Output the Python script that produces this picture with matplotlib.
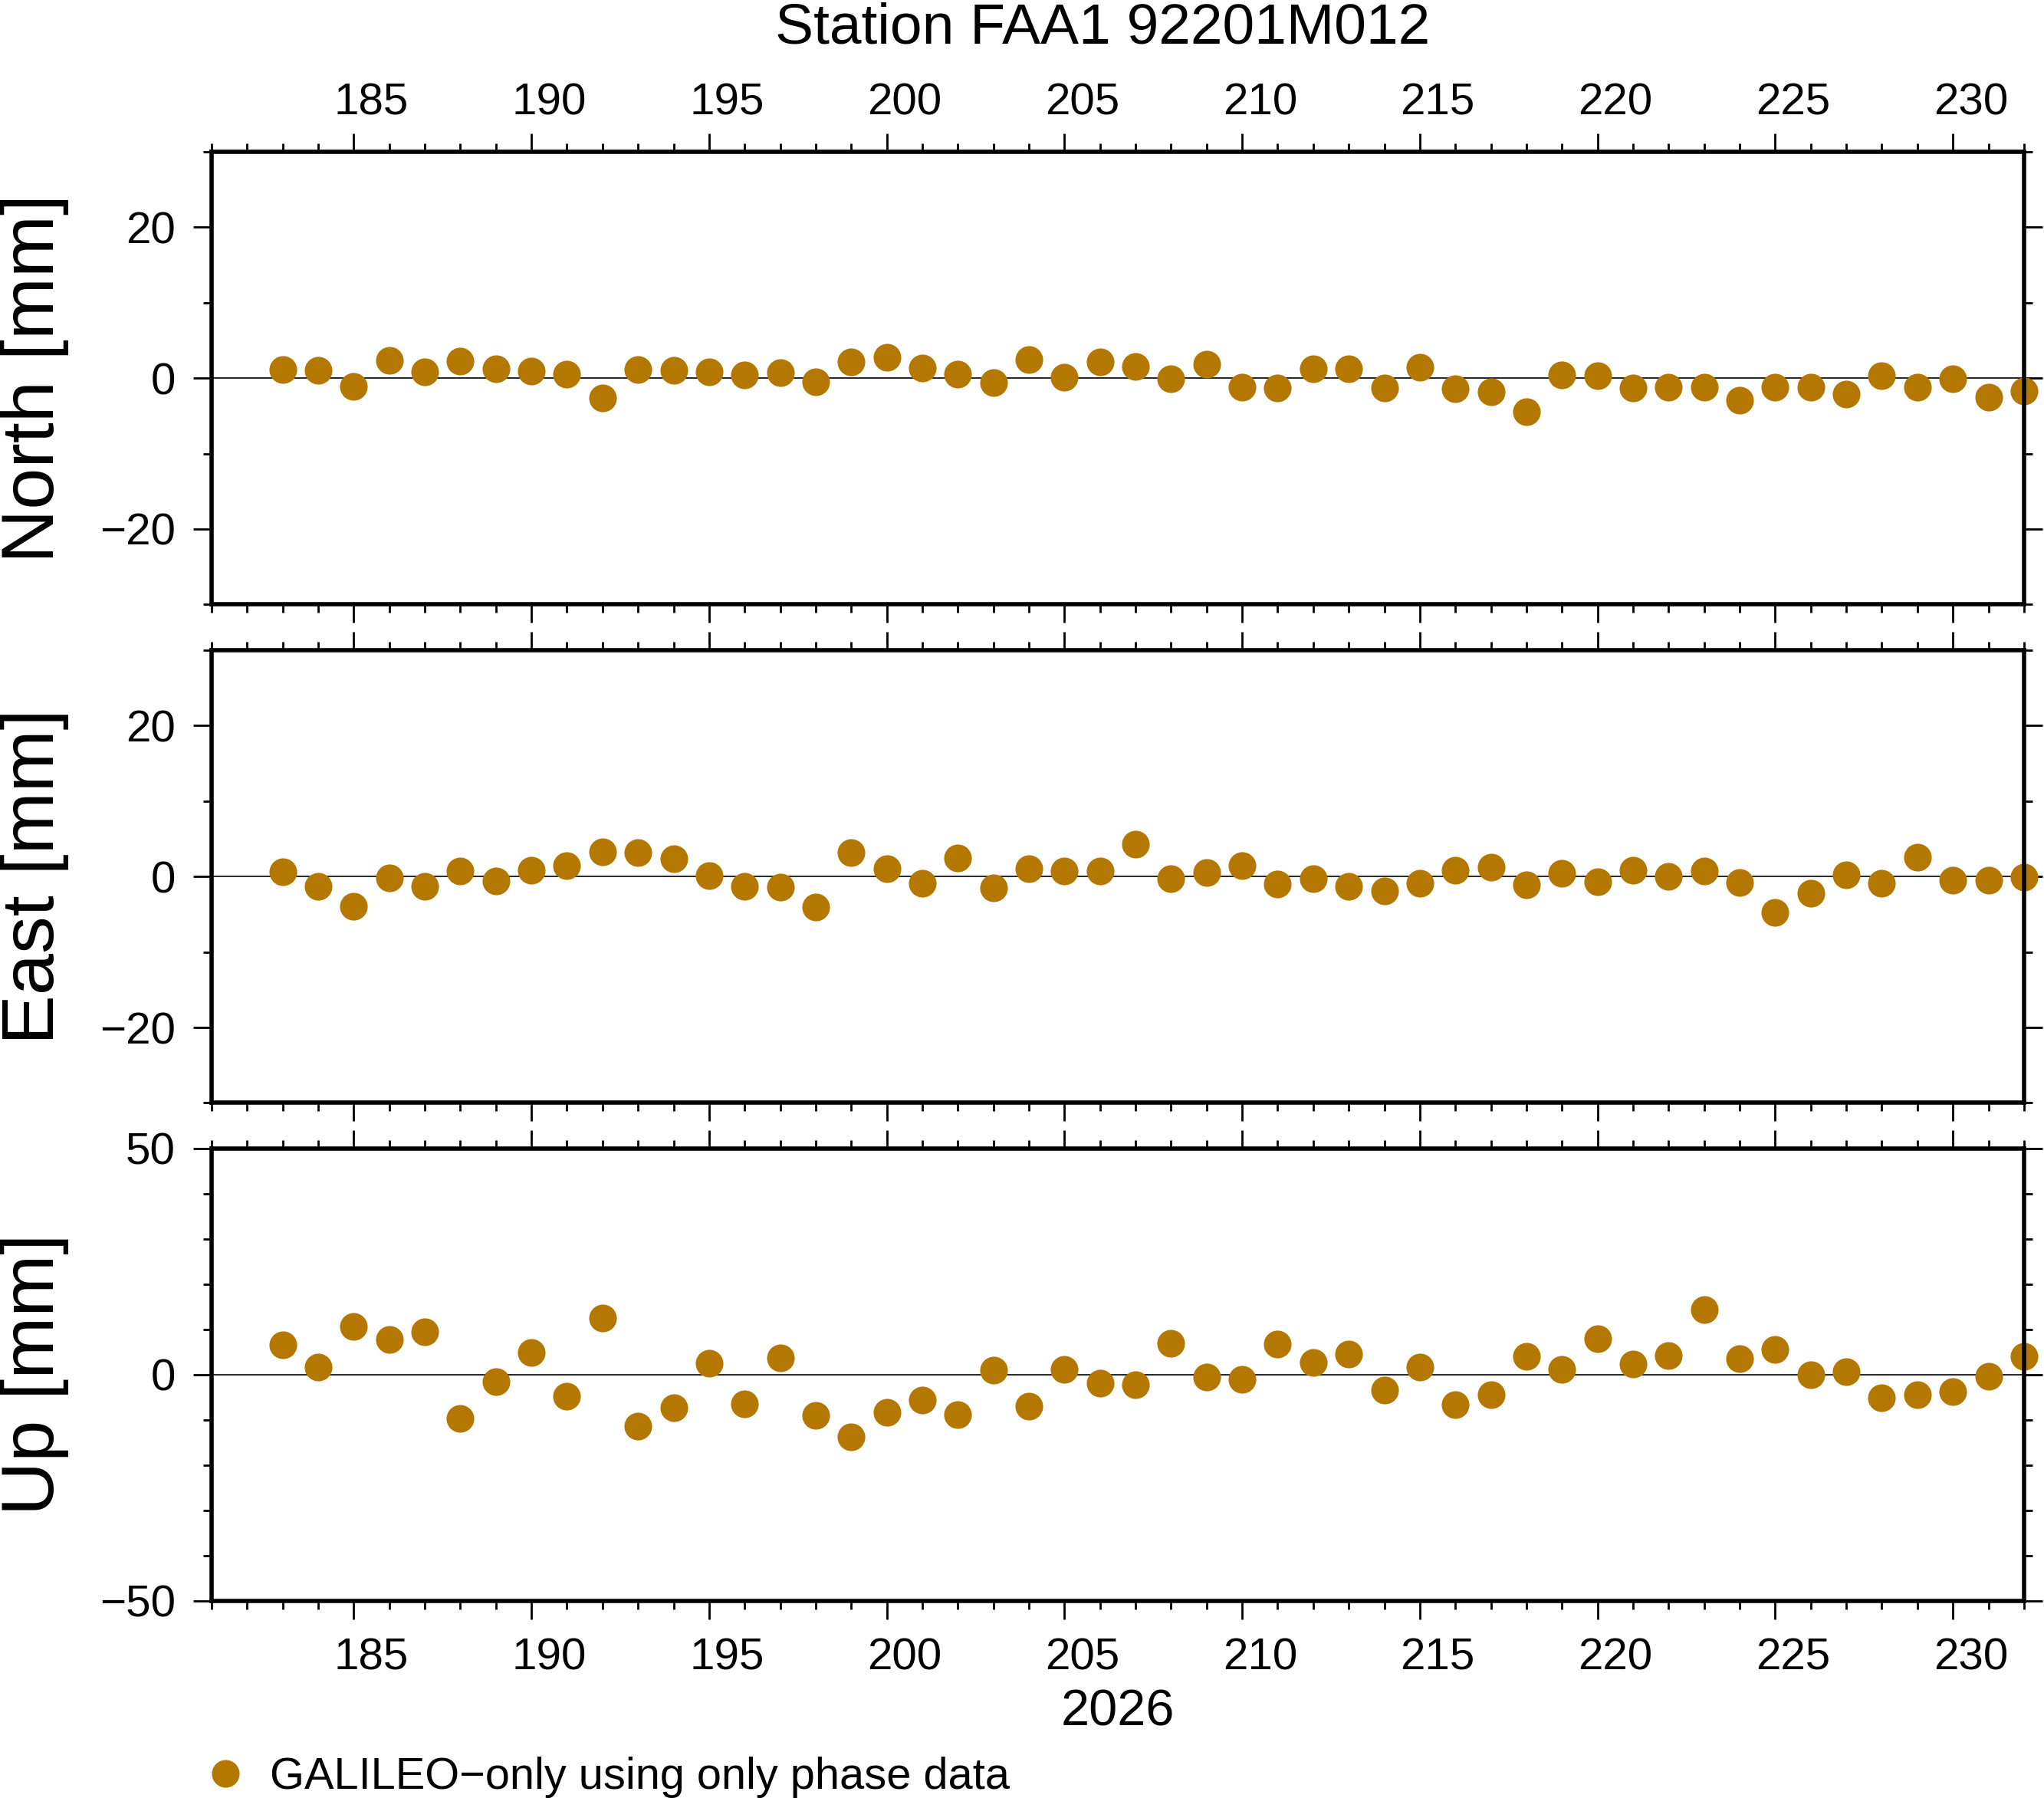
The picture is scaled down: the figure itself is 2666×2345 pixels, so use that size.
"""Station FAA1 daily position residuals: North / East / Up panels."""

import matplotlib
matplotlib.use("Agg")
import matplotlib.pyplot as plt
from matplotlib.ticker import MultipleLocator

plt.rcParams["font.family"] = ["Liberation Sans", "DejaVu Sans"]

TITLE = "Station FAA1 92201M012"
YEAR = "2026"
SERIES_LABEL = "GALILEO\u2212only using only phase data"

DAYS = list(range(183, 233))
LABEL_DAYS = list(range(185, 231, 5))

NORTH = [1.1, 1.0, -1.1, 2.4, 0.8, 2.3, 1.2, 0.9, 0.5, -2.6,
         1.1, 1.0, 0.8, 0.4, 0.7, -0.5, 2.1, 2.8, 1.3, 0.5,
         -0.6, 2.5, 0.1, 2.1, 1.5, -0.1, 1.8, -1.2, -1.3, 1.2,
         1.2, -1.3, 1.4, -1.4, -1.8, -4.5, 0.4, 0.3, -1.3, -1.2,
         -1.2, -2.9, -1.2, -1.2, -2.1, 0.3, -1.2, -0.1, -2.5, -1.7]
EAST = [0.6, -1.3, -3.9, -0.2, -1.3, 0.7, -0.6, 0.8, 1.4, 3.3,
        3.2, 2.4, 0.1, -1.3, -1.4, -4.0, 3.2, 1.0, -0.9, 2.5,
        -1.5, 1.0, 0.7, 0.7, 4.3, -0.3, 0.5, 1.4, -1.0, -0.3,
        -1.3, -1.9, -0.9, 0.8, 1.2, -1.1, 0.4, -0.7, 0.8, 0.0,
        0.7, -0.8, -4.8, -2.2, 0.2, -0.9, 2.6, -0.5, -0.5, -0.1]
UP = [6.6, 1.6, 10.6, 7.7, 9.4, -9.7, -1.6, 4.9, -4.7, 12.5,
      -11.4, -7.3, 2.5, -6.4, 3.6, -9.1, -13.8, -8.4, -5.6, -8.8,
      0.9, -7.0, 1.2, -1.9, -2.3, 6.9, -0.6, -1.0, 6.7, 2.6,
      4.5, -3.5, 1.6, -6.7, -4.4, 4.0, 1.2, 7.9, 2.3, 4.2,
      14.4, 3.5, 5.6, -0.1, 0.6, -5.2, -4.4, -3.8, -0.3, 4.0]

PANELS = [
    ("North [mm]", NORTH, 30, [-20, 0, 20]),
    ("East [mm]", EAST, 30, [-20, 0, 20]),
    ("Up [mm]", UP, 50, [-50, 0, 50]),
]

COLOR = "#b47800"
LEFT, WIDTH, HEIGHT = 0.1035, 0.8867, 0.2518
BOTTOMS = [0.6638, 0.3866, 0.1096]


def day_labels(ax, side, pad):
    # day numbers sit in the middle of the day interval, not on the tick
    sec = ax.secondary_xaxis(side)
    sec.set_xticks([d + 0.5 for d in LABEL_DAYS], labels=[str(d) for d in LABEL_DAYS])
    sec.tick_params(length=0, pad=pad, labelsize=21)
    for s in sec.spines.values():
        s.set_visible(False)


fig = plt.figure(figsize=(13.33, 11.725), dpi=200)
axes = []
for (label, vals, lim, majors), bottom in zip(PANELS, BOTTOMS):
    ax = fig.add_axes([LEFT, bottom, WIDTH, HEIGHT])
    ax.axhline(0, color="black", lw=0.6, zorder=1)
    line, = ax.plot(DAYS, vals, "o", ms=13, color=COLOR, mec="none",
                    clip_on=False, zorder=2)
    ax.set_xlim(181, 232)
    ax.set_ylim(-lim, lim)
    ax.xaxis.set_major_locator(MultipleLocator(5))
    ax.xaxis.set_minor_locator(MultipleLocator(1))
    ax.set_yticks(majors)
    ax.yaxis.set_minor_locator(MultipleLocator(10))
    ax.tick_params(which="both", direction="out", top=True, right=True,
                   labelbottom=False, labeltop=False, width=1.0)
    ax.tick_params(which="major", length=8.5, labelsize=21, pad=8.5)
    ax.tick_params(which="minor", length=4)
    for s in ax.spines.values():
        s.set_linewidth(2.0)
    fig.text(0.0169, bottom + HEIGHT / 2, label, rotation=90,
             ha="center", va="center", fontsize=35)
    axes.append(ax)

day_labels(axes[0], "top", 13)
day_labels(axes[2], "bottom", 17)

fig.text(0.5394, 0.9757, TITLE, ha="center", va="baseline", fontsize=27)
fig.text(LEFT + WIDTH / 2, 0.0405, YEAR, ha="center", va="baseline", fontsize=24)

fig.legend(handles=[line], labels=[SERIES_LABEL], loc="lower left",
           bbox_to_anchor=(0.0996, 0.0), frameon=False, borderpad=0,
           borderaxespad=0, handlelength=1.0, handletextpad=0.5, fontsize=20.8)

fig.savefig("out.png", dpi=200)
